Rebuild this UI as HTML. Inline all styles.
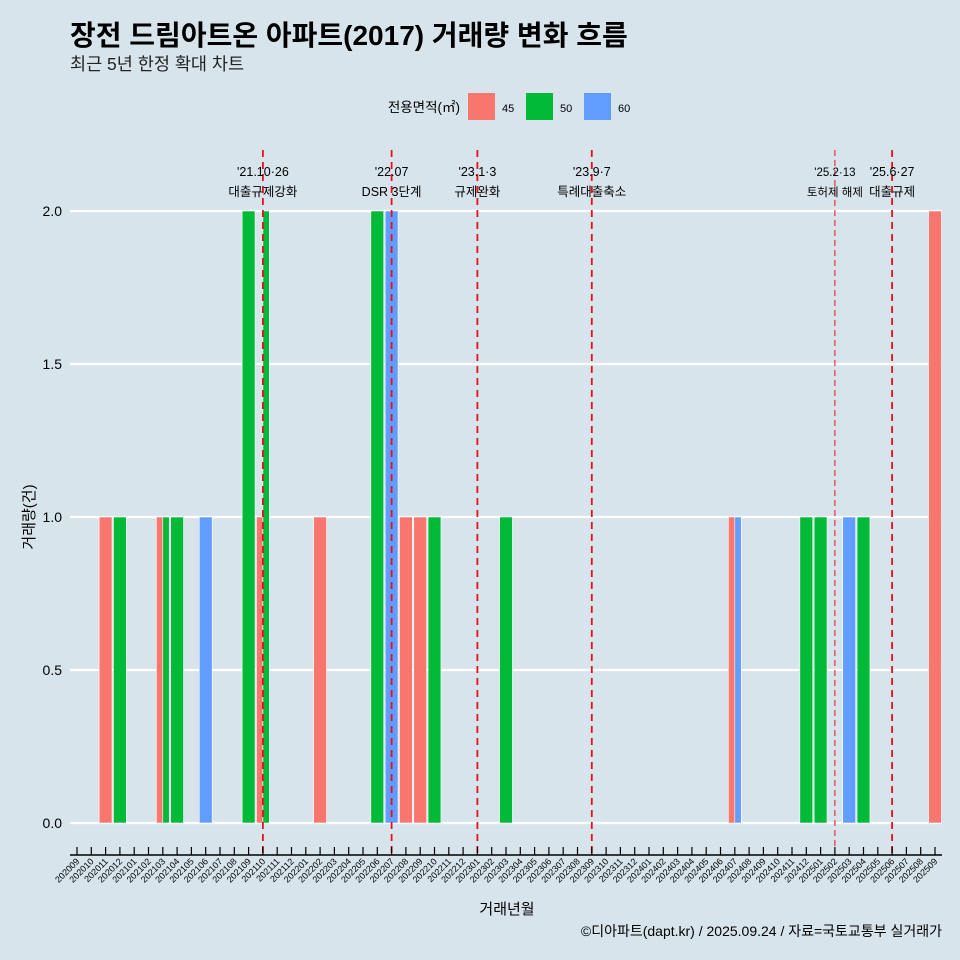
<!DOCTYPE html>
<html><head><meta charset="utf-8">
<style>
html,body{margin:0;width:960px;height:960px;overflow:hidden;background:#d7e4eb;}
svg{display:block;}
svg text{font-family:"Liberation Sans","Noto Sans CJK KR",sans-serif;}
</style></head>
<body>
<svg width="960" height="960" xmlns="http://www.w3.org/2000/svg">
<rect width="960" height="960" fill="#d7e4eb"/>
<text x="70" y="45" font-size="28" font-weight="bold" fill="#000">장전 드림아트온 아파트(2017) 거래량 변화 흐름</text>
<text x="70" y="70" font-size="17.5" fill="#222">최근 5년 한정 확대 차트</text>
<g>
<text x="460" y="112" font-size="13.5" text-anchor="end">전용면적(㎡)</text>
<rect x="468" y="93" width="27" height="27" fill="#f8766d"/>
<text x="502" y="112" font-size="11">45</text>
<rect x="526" y="93" width="27" height="27" fill="#00ba38"/>
<text x="560" y="112" font-size="11">50</text>
<rect x="584" y="93" width="27" height="27" fill="#619cff"/>
<text x="618" y="112" font-size="11">60</text>
</g>
<g id="grid"></g><g id="bars"></g><g id="events"></g><g id="axes"></g>
<text x="507" y="914" font-size="15" text-anchor="middle">거래년월</text>
<text transform="translate(34,517) rotate(-90)" font-size="15" text-anchor="middle">거래량(건)</text>
<text x="942" y="936" font-size="14" text-anchor="end">©디아파트(dapt.kr) / 2025.09.24 / 자료=국토교통부 실거래가</text>
</svg>
<script>
const months = [];
for (let y = 2020; y <= 2025; y++) for (let m = 1; m <= 12; m++) { const k = y * 100 + m; if (k >= 202009 && k <= 202509) months.push(String(k)); }
const barMonths = ["202011","202012","202103","202103","202104","202106","202109","202110","202110","202202","202206","202207","202208","202209","202210","202303","202407","202407","202412","202501","202503","202504","202509"];
const barSizes  = ["45","50","45","50","50","60","50","45","50","45","50","60","45","45","50","50","45","60","50","50","60","50","45"];
const barValues = [1,1,1,1,1,1,2,1,2,1,2,2,1,1,1,1,1,1,1,1,1,1,2];
const yTicks = [0,0.5,1,1.5,2];
const yTickLabels = ["0.0","0.5","1.0","1.5","2.0"];
const eventMonths = ["202110","202207","202301","202309","202502","202506"];
const eventDates = ["'21.10·26","'22.07","'23.1·3","'23.9·7","'25.2·13","'25.6·27"];
const eventNames = ["대출규제강화","DSR 3단계","규제완화","특례대출축소","토허제 해제","대출규제"];
const colors = {"45":"#f8766d","50":"#00ba38","60":"#619cff"};
const NS = "http://www.w3.org/2000/svg";
const x = m => 77 + months.indexOf(m) * 14.3;
const y = v => 823 - v * 306;
const step = 14.3, bw = step * 0.9;
function mk(tag, attrs, parent) { const e = document.createElementNS(NS, tag); for (const k in attrs) e.setAttribute(k, attrs[k]); document.getElementById(parent).appendChild(e); return e; }
yTicks.forEach((t, i) => {
  const l = mk("line", {x1:70, x2:942, y1:y(t), y2:y(t), stroke:"#fff", "stroke-width":2.2}, "grid");
  
  
  const tx = mk("text", {x:62, y:y(t)+5, "font-size":14, "text-anchor":"end"}, "axes");
  tx.textContent = yTickLabels[i];
  
  
});
const groups = {};
barMonths.forEach((m, i) => { (groups[m] = groups[m] || []).push(i); });
for (const m in groups) {
  const idx = groups[m], n = idx.length, w = bw / n;
  idx.forEach((i, j) => {
    const x0 = x(m) - bw / 2 + j * w;
    const r = mk("rect", {x:x0, y:y(barValues[i]), width:w, height:y(0)-y(barValues[i]), fill:colors[barSizes[i]], stroke:"#fff", "stroke-width":0.6}, "bars");
    
    
  });
}
eventMonths.forEach((m, i) => {
  const thin = m === "202502";
  const l = mk("line", {x1:x(m), x2:x(m), y1:150, y2:857, stroke:"#e8101a", "stroke-width":thin?1:1.8, "stroke-dasharray":thin?"6,4":"7,5"}, "events");
  
  
  const cx = x(m);
  const fs = thin ? 11.5 : 12.5;
  const t1 = mk("text", {x:cx, y:176, "font-size":fs, "text-anchor":"middle"}, "events");
  t1.textContent = eventDates[i];
  
  
  const t2 = mk("text", {x:cx, y:196, "font-size":fs, "text-anchor":"middle"}, "events");
  t2.textContent = eventNames[i];
  
  
});
const ax = mk("line", {x1:70, x2:942, y1:855, y2:855, stroke:"#000", "stroke-width":1.5}, "axes");


months.forEach(m => {
  const tk = mk("line", {x1:x(m), x2:x(m), y1:847, y2:855, stroke:"#000", "stroke-width":1.2}, "axes");
  
  
  const t = mk("text", {x:x(m)+3, y:862, "font-size":9, "text-anchor":"end", transform:"rotate(-45 " + (x(m)+3) + " 862)"}, "axes");
  t.textContent = m;
  
  
});
</script>
</body></html>
